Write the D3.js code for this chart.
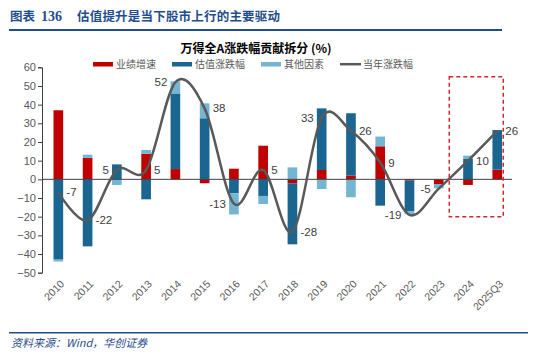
<!DOCTYPE html>
<html><head><meta charset="utf-8">
<script src="https://cdn.jsdelivr.net/npm/d3@7"></script>
<style>
html,body{margin:0;padding:0;background:#fff;}
svg{display:block;}
</style></head>
<body>
<svg id="c" width="550" height="356"></svg>
<script>
const categories = ["2010","2011","2012","2013","2014","2015","2016","2017","2018","2019","2020","2021","2022","2023","2024","2025Q3"];
const earnings   = [37, 11.5, 0, 13.7, 5.5, -2.1, 5.7, 18, -2.1, 5, 2, 17.7, -0.7, -2.5, -3, 5.2];
const valuation  = [-43, -35.9, 8, -10.7, 40.5, 32.7, -7.5, -8.9, -32.7, 33, 33.4, -14.1, -16.3, 0, 10.9, 21.2];
const others     = [-1, 1.7, -3, 2, 6.5, 8, -11.3, -4.3, 6.4, -5.2, -9.6, 5.2, -1.5, -2.3, 1.8, 0];
const annual     = [-7, -22, 5, 5, 52, 38, -13, 5, -28, 33, 26, 9, -19, -5, 10, 26];
const yTicks     = [-50, -40, -30, -20, -10, 0, 10, 20, 30, 40, 50, 60];
const seriesNames = ["业绩增速", "估值涨跌幅", "其他因素", "当年涨跌幅"];
const labelSide  = ["r","r","l","r","l","r","l","r","r","l","r","r","l","l","r","r"];

const colors = ["#C00000", "#1A6690", "#74B5D2", "#595959"];
const svg = d3.select("#c");
const CJK = "'Noto Sans CJK SC', sans-serif";
const LAT = "'Liberation Sans', Arial, sans-serif";

// header
const head = svg.append("text").attr("x", 10).attr("y", 21)
  .attr("fill", "#1F4E8C").attr("font-weight", "bold").attr("font-size", 12.5);
head.append("tspan").attr("font-family", CJK).text("图表");
head.append("tspan").attr("font-family", "'Liberation Serif', serif").attr("font-size", 14).attr("dx", 6).text("136");
head.append("tspan").attr("font-family", CJK).attr("x", 77).attr("letter-spacing", 0.2).text("估值提升是当下股市上行的主要驱动");
svg.append("line").attr("x1", 9).attr("x2", 502).attr("y1", 30).attr("y2", 30)
  .attr("stroke", "#1F4E8C").attr("stroke-width", 2);

// footer
svg.append("line").attr("x1", 9).attr("x2", 528).attr("y1", 332.7).attr("y2", 332.7)
  .attr("stroke", "#1F4E8C").attr("stroke-width", 1.5);
svg.append("text").attr("x", 11).attr("y", 347).attr("fill", "#1F4E8C")
  .attr("font-style", "italic").attr("font-size", 11).attr("font-family", CJK)
  .text("资料来源：Wind，华创证券");

// title
svg.append("text").attr("x", 256).attr("y", 53).attr("text-anchor", "middle")
  .attr("font-weight", "bold").attr("font-size", 12).attr("fill", "#000")
  .attr("font-family", CJK).text("万得全A涨跌幅贡献拆分 (%)");

// scales
const x = d3.scaleBand().domain(categories).range([43.7, 511.9]).paddingInner(0.67).paddingOuter(0.335);
const y = d3.scaleLinear().domain([-50, 60]).range([272.7, 67.3]);
const cx = c => x(c) + x.bandwidth() / 2;

// stacked data
const rows = categories.map((c, i) => ({cat: c, e: earnings[i], v: valuation[i], o: others[i]}));
const stack = d3.stack().keys(["e", "v", "o"]).offset(d3.stackOffsetDiverging);
const stacked = stack(rows);

stacked.forEach((s, si) => {
  svg.append("g").selectAll("rect").data(s).join("rect")
    .attr("x", d => x(d.data.cat))
    .attr("width", x.bandwidth())
    .attr("y", d => y(Math.max(d[0], d[1])))
    .attr("height", d => Math.abs(y(d[0]) - y(d[1])))
    .attr("fill", colors[si]);
});

// zero line
svg.append("line").attr("x1", 42).attr("x2", 512).attr("y1", y(0)).attr("y2", y(0))
  .attr("stroke", "#404040").attr("stroke-width", 1);

// y axis
const yAxis = svg.append("g").attr("transform", "translate(42,0)")
  .call(d3.axisLeft(y).tickValues(yTicks).tickSize(4).tickSizeOuter(4));
yAxis.select(".domain").attr("stroke", "#404040");
yAxis.selectAll(".tick line").attr("stroke", "#404040");
yAxis.selectAll(".tick text").attr("font-family", LAT).attr("font-size", 11).attr("fill", "#595959").attr("x", -6);

// x labels
svg.append("g").selectAll("text").data(categories).join("text")
  .attr("transform", c => `translate(${cx(c) + 4},${282}) rotate(-45)`)
  .attr("text-anchor", "end").attr("dy", "0.35em")
  .attr("font-family", LAT).attr("font-size", 10.5).attr("fill", "#595959")
  .text(c => c);

// line (Excel-like smoothing)
const line = d3.line().x((d, i) => cx(categories[i])).y(d => y(d)).curve(d3.curveCatmullRom.alpha(0));
svg.append("path").datum(annual).attr("d", line).attr("fill", "none")
  .attr("stroke", colors[3]).attr("stroke-width", 2.5);

// labels
svg.append("g").selectAll("text").data(annual).join("text")
  .attr("x", (d, i) => cx(categories[i]) + (labelSide[i] === "r" ? 8 : -8))
  .attr("y", d => y(d)).attr("dy", "0.35em")
  .attr("text-anchor", (d, i) => labelSide[i] === "r" ? "start" : "end")
  .attr("font-family", LAT).attr("font-size", 11.5).attr("fill", "#404040")
  .text(d => d);

// dashed highlight box
svg.append("rect")
  .attr("x", cx("2024") - x.step() * 0.64)
  .attr("y", y(55))
  .attr("width", (cx("2025Q3") + 6) - (cx("2024") - x.step() * 0.64))
  .attr("height", y(-20) - y(55))
  .attr("fill", "none").attr("stroke", "#D0282E").attr("stroke-width", 1.5)
  .attr("stroke-dasharray", "4,3");

// legend
const leg = svg.append("g");
let lx = 93;
seriesNames.forEach((n, i) => {
  if (i < 3) {
    leg.append("rect").attr("x", lx).attr("y", 62).attr("width", 20).attr("height", 4.5).attr("fill", colors[i]);
  } else {
    leg.append("line").attr("x1", lx).attr("x2", lx + 21).attr("y1", 64.2).attr("y2", 64.2)
      .attr("stroke", colors[i]).attr("stroke-width", 2.5);
  }
  const t = leg.append("text").attr("x", lx + 23).attr("y", 64).attr("dy", "0.35em")
    .attr("font-family", CJK).attr("font-size", 10).attr("fill", "#595959").text(n);
  lx += 23 + t.node().getComputedTextLength() + 16;
});
</script>
</body></html>
